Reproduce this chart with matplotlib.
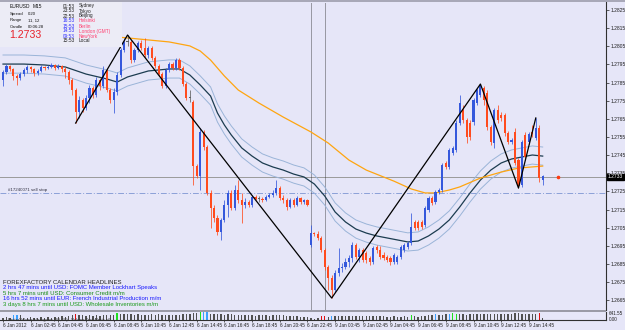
import matplotlib
matplotlib.use("Agg")
import matplotlib.pyplot as plt
from matplotlib.patches import Rectangle

plt.rcParams["font.family"] = ["Liberation Sans", "DejaVu Sans"]

# EURUSD M15 candles, bar 0 = 6 Jan 00:45
bar_open = [1.27864, 1.27908, 1.27941, 1.27925, 1.27886, 1.27875, 1.27897, 1.27919, 1.27936, 1.27925,
            1.27903, 1.27914, 1.27936, 1.27930, 1.27936, 1.27947, 1.27930, 1.27941, 1.27925, 1.27908,
            1.27864, 1.27809, 1.27688, 1.27754, 1.27710, 1.27765, 1.27820, 1.27782, 1.27864, 1.27831,
            1.27919, 1.27809, 1.27754, 1.27798, 1.27892, 1.28029, 1.28074, 1.28074, 1.27974, 1.28029,
            1.28068, 1.28040, 1.28002, 1.28040, 1.27985, 1.27941, 1.27897, 1.27831, 1.27919, 1.27952,
            1.27930, 1.27974, 1.27930, 1.27842, 1.27765, 1.27743, 1.27390, 1.27335, 1.27578, 1.27495,
            1.27242, 1.27159, 1.27104, 1.27027, 1.27093, 1.27175, 1.27242, 1.27159, 1.27258, 1.27203,
            1.27175, 1.27192, 1.27175, 1.27220, 1.27209, 1.27209, 1.27203, 1.27220, 1.27231, 1.27242,
            1.27269, 1.27214, 1.27203, 1.27164, 1.27203, 1.27175, 1.27214, 1.27192, 1.27203, 1.26955,
            1.27021, 1.27016, 1.26994, 1.26928, 1.26834, 1.26773, 1.26707, 1.26801, 1.26828, 1.26834,
            1.26861, 1.26883, 1.26955, 1.26889, 1.26928, 1.26911, 1.26883, 1.26861, 1.26944, 1.26928,
            1.26900, 1.26889, 1.26883, 1.26861, 1.26861, 1.26889, 1.26928, 1.26944, 1.26966, 1.27082,
            1.27082, 1.27082, 1.27065, 1.27148, 1.27214, 1.27192, 1.27247, 1.27258, 1.27407, 1.27385,
            1.27462, 1.27479, 1.27627, 1.27699, 1.27644, 1.27627, 1.27633, 1.27737, 1.27782, 1.27820,
            1.27793, 1.27605, 1.27517, 1.27699, 1.27671, 1.27671, 1.27572, 1.27523, 1.27578, 1.27423,
            1.27286, 1.27561, 1.27523, 1.27578, 1.27545, 1.27600, 1.27313]
bar_high = [1.27919, 1.27952, 1.27947, 1.27930, 1.27897, 1.27908, 1.27930, 1.27947, 1.27941, 1.27930,
            1.27925, 1.27947, 1.27941, 1.27947, 1.27958, 1.27952, 1.27952, 1.27947, 1.27936, 1.27919,
            1.27875, 1.27820, 1.27776, 1.27765, 1.27782, 1.27837, 1.27831, 1.27881, 1.27875, 1.27941,
            1.27930, 1.27820, 1.27820, 1.27908, 1.28040, 1.28096, 1.28112, 1.28085, 1.28040, 1.28079,
            1.28085, 1.28096, 1.28052, 1.28052, 1.27996, 1.27952, 1.27908, 1.27930, 1.27963, 1.27963,
            1.27985, 1.27985, 1.27941, 1.27853, 1.27809, 1.27754, 1.27401, 1.27600, 1.27589, 1.27506,
            1.27258, 1.27175, 1.27120, 1.27104, 1.27203, 1.27258, 1.27258, 1.27286, 1.27313, 1.27242,
            1.27214, 1.27203, 1.27231, 1.27231, 1.27225, 1.27220, 1.27231, 1.27242, 1.27258, 1.27313,
            1.27280, 1.27231, 1.27214, 1.27214, 1.27214, 1.27225, 1.27220, 1.27209, 1.27209, 1.27065,
            1.27027, 1.27032, 1.27005, 1.26939, 1.26845, 1.26790, 1.26817, 1.26939, 1.26856, 1.26883,
            1.26900, 1.26972, 1.26966, 1.26939, 1.26939, 1.26922, 1.26894, 1.26950, 1.26955, 1.26950,
            1.26917, 1.26900, 1.26894, 1.26911, 1.26900, 1.26955, 1.26966, 1.26977, 1.27131, 1.27093,
            1.27093, 1.27093, 1.27170, 1.27225, 1.27225, 1.27258, 1.27269, 1.27407, 1.27418, 1.27490,
            1.27501, 1.27644, 1.27782, 1.27726, 1.27655, 1.27644, 1.27765, 1.27820, 1.27842, 1.27831,
            1.27809, 1.27616, 1.27710, 1.27726, 1.27688, 1.27682, 1.27583, 1.27545, 1.27600, 1.27434,
            1.27534, 1.27578, 1.27578, 1.27616, 1.27655, 1.27616, 1.27341]
bar_low = [1.27831, 1.27897, 1.27914, 1.27864, 1.27837, 1.27864, 1.27886, 1.27903, 1.27908, 1.27886,
           1.27892, 1.27908, 1.27919, 1.27925, 1.27930, 1.27919, 1.27925, 1.27908, 1.27875, 1.27842,
           1.27782, 1.27627, 1.27655, 1.27688, 1.27699, 1.27737, 1.27765, 1.27771, 1.27809, 1.27820,
           1.27798, 1.27737, 1.27682, 1.27782, 1.27881, 1.28018, 1.28052, 1.27958, 1.27963, 1.28018,
           1.28029, 1.27991, 1.27985, 1.27974, 1.27930, 1.27886, 1.27820, 1.27820, 1.27908, 1.27919,
           1.27919, 1.27919, 1.27831, 1.27754, 1.27743, 1.27286, 1.27324, 1.27258, 1.27479, 1.27231,
           1.27049, 1.27082, 1.27010, 1.26983, 1.27082, 1.27109, 1.27148, 1.27148, 1.27187, 1.27076,
           1.27159, 1.27164, 1.27164, 1.27203, 1.27192, 1.27192, 1.27198, 1.27214, 1.27220, 1.27231,
           1.27203, 1.27187, 1.27148, 1.27159, 1.27164, 1.27170, 1.27181, 1.27181, 1.27170, 1.26944,
           1.27005, 1.26983, 1.26917, 1.26817, 1.26707, 1.26663, 1.26696, 1.26784, 1.26806, 1.26823,
           1.26834, 1.26861, 1.26878, 1.26861, 1.26861, 1.26856, 1.26845, 1.26850, 1.26911, 1.26878,
           1.26872, 1.26861, 1.26845, 1.26850, 1.26850, 1.26878, 1.26917, 1.26933, 1.26955, 1.27038,
           1.27038, 1.27043, 1.27054, 1.27137, 1.27175, 1.27181, 1.27236, 1.27247, 1.27374, 1.27374,
           1.27451, 1.27468, 1.27616, 1.27627, 1.27517, 1.27534, 1.27616, 1.27726, 1.27771, 1.27726,
           1.27589, 1.27506, 1.27490, 1.27627, 1.27638, 1.27556, 1.27512, 1.27512, 1.27396, 1.27269,
           1.27275, 1.27423, 1.27512, 1.27551, 1.27534, 1.27302, 1.27286]
bar_close = [1.27908, 1.27941, 1.27925, 1.27886, 1.27875, 1.27897, 1.27919, 1.27936, 1.27925, 1.27903,
             1.27914, 1.27936, 1.27930, 1.27936, 1.27947, 1.27930, 1.27941, 1.27925, 1.27908, 1.27864,
             1.27809, 1.27688, 1.27754, 1.27710, 1.27765, 1.27820, 1.27782, 1.27864, 1.27831, 1.27919,
             1.27809, 1.27754, 1.27798, 1.27892, 1.28029, 1.28074, 1.28074, 1.27974, 1.28029, 1.28068,
             1.28040, 1.28002, 1.28040, 1.27985, 1.27941, 1.27897, 1.27831, 1.27919, 1.27952, 1.27930,
             1.27974, 1.27930, 1.27842, 1.27765, 1.27765, 1.27390, 1.27335, 1.27578, 1.27495, 1.27242,
             1.27159, 1.27104, 1.27027, 1.27093, 1.27175, 1.27242, 1.27159, 1.27258, 1.27203, 1.27175,
             1.27192, 1.27175, 1.27220, 1.27209, 1.27209, 1.27203, 1.27220, 1.27231, 1.27242, 1.27269,
             1.27214, 1.27203, 1.27164, 1.27203, 1.27175, 1.27214, 1.27192, 1.27203, 1.27175, 1.27021,
             1.27016, 1.26994, 1.26928, 1.26834, 1.26773, 1.26707, 1.26801, 1.26828, 1.26834, 1.26861,
             1.26883, 1.26955, 1.26889, 1.26928, 1.26872, 1.26872, 1.26861, 1.26939, 1.26928, 1.26889,
             1.26883, 1.26872, 1.26861, 1.26900, 1.26889, 1.26944, 1.26955, 1.26966, 1.27054, 1.27049,
             1.27049, 1.27054, 1.27159, 1.27214, 1.27187, 1.27247, 1.27258, 1.27396, 1.27385, 1.27479,
             1.27490, 1.27627, 1.27737, 1.27644, 1.27551, 1.27551, 1.27754, 1.27809, 1.27837, 1.27754,
             1.27605, 1.27523, 1.27699, 1.27644, 1.27655, 1.27572, 1.27523, 1.27534, 1.27407, 1.27280,
             1.27523, 1.27440, 1.27567, 1.27567, 1.27600, 1.27324, 1.27335]

# moving average (dark) read every few bars; envelope half width
ma_bars = [0, 6, 12, 18, 24, 30, 33, 36, 42, 48, 51, 54, 57, 60, 62, 64, 66, 69, 72, 75, 78, 81,
           84, 87, 90, 93, 96, 99, 102, 105, 108, 111, 114, 117, 120, 123, 126, 129, 132, 135,
           138, 141, 144, 147, 150, 153, 156]
ma_mid = [1.27952, 1.27952, 1.27947, 1.27936, 1.27897, 1.27870, 1.27853, 1.27881, 1.27914, 1.27925,
          1.27925, 1.27892, 1.27837, 1.27776, 1.27682, 1.27616, 1.27561, 1.27490, 1.27445, 1.27407,
          1.27385, 1.27368, 1.27346, 1.27330, 1.27291, 1.27225, 1.27137, 1.27082, 1.27043, 1.27021,
          1.27005, 1.26994, 1.26983, 1.26972, 1.26977, 1.27005, 1.27043, 1.27093, 1.27164, 1.27242,
          1.27313, 1.27368, 1.27407, 1.27429, 1.27440, 1.27451, 1.27445]
env_width = 0.0005

# slow moving average (orange)
slow_bars = [30, 33, 36, 42, 48, 54, 57, 60, 64, 68, 74, 81, 89, 94, 100, 105, 113, 118, 122,
             125, 129, 132, 138, 144, 149, 156]
slow_ma = [1.28107, 1.28101, 1.28096, 1.28085, 1.28074, 1.28052, 1.28024, 1.27974, 1.27886, 1.27809,
           1.27737, 1.27660, 1.27578, 1.27517, 1.27423, 1.27368, 1.27307, 1.27264, 1.27242, 1.27242,
           1.27258, 1.27275, 1.27324, 1.27357, 1.27379, 1.27390]

# zigzag swing points (bar, high/low)
zz_bars = [21, 36, 95, 138, 149, 154]
zz_kind = ["L", "H", "L", "H", "L", "H"]

volume = [200, 230, 180, 380, 420, 400, 200, 170, 220, 200, 180, 210, 170, 230, 200, 220, 250, 300,
          280, 360, 400, 480, 430, 380, 350, 400, 340, 380, 360, 400, 420, 380, 400, 600, 480, 520,
          500, 460, 440, 480, 400, 420, 440, 460, 400, 480, 440, 400, 420, 380, 400, 420, 460, 480,
          500, 580, 560, 620, 630, 610, 520, 480, 500, 460, 440, 480, 460, 420, 440, 400, 420, 380,
          400, 360, 380, 400, 380, 360, 400, 420, 400, 380, 360, 340, 320, 300, 260, 240, 220, 180,
          120, 150, 340, 360, 260, 350, 320, 340, 360, 320, 340, 360, 340, 360, 320, 340, 360, 300,
          320, 340, 300, 260, 240, 300, 260, 240, 300, 260, 420, 300, 280, 320, 360, 380, 400, 480,
          400, 440, 460, 520, 540, 520, 480, 460, 440, 480, 500, 460, 480, 500, 520, 480, 460, 500,
          480, 460, 500, 520, 540, 560, 520, 480, 500, 460, 480, 600, 160]
vol_blue = [3, 4, 58, 59, 95, 125, 129]
vol_green = [33, 57, 118, 130, 131]
vol_red = [21, 92, 93, 155]

price_ticks = [1.2665 + 0.001 * k for k in range(17)]
time_labels = ["6 Jan 2012", "6 Jan 02:45", "6 Jan 04:45", "6 Jan 06:45", "6 Jan 08:45",
               "6 Jan 10:45", "6 Jan 12:45", "6 Jan 14:45", "6 Jan 16:45", "6 Jan 18:45",
               "6 Jan 20:45", "6 Jan 22:45", "9 Jan 00:45", "9 Jan 02:45", "9 Jan 04:45",
               "9 Jan 06:45", "9 Jan 08:45", "9 Jan 10:45", "9 Jan 12:45", "9 Jan 14:45"]
bid = 1.2733
sell_stop = 1.27242
sep_bars = [89, 93]

info_rows = [("Spread", "0.20"), ("Range", "11, 12"), ("Candle", "00:06:28")]
headlines = [("FOREXFACTORY CALENDAR HEADLINES", "#202020"),
             ("2 hrs 47 mins until USD: FOMC Member Lockhart Speaks", "#1a1aff"),
             ("5 hrs 7 mins until USD: Consumer Credit m/m", "#1a8a1a"),
             ("16 hrs 52 mins until EUR: French Industrial Production m/m", "#1a1aff"),
             ("3 days 8 hrs 7 mins until USD: Wholesale Inventories m/m", "#1a9a1a")]
clocks = [("01:53", "Sydney", "#202020", "#202020"), ("23:53", "Tokyo", "#202020", "#202020"),
          ("22:53", "Beijing", "#202020", "#202020"), ("16:53", "Helsinki", "#3030ff", "#ff4070"),
          ("15:53", "Berlin", "#3030ff", "#ff4070"), ("14:53", "London (GMT)", "#3030ff", "#ff4070"),
          ("09:53", "NewYork", "#3030ff", "#ff4070"), ("15:53", "Local", "#202020", "#202020")]

BG = "#e6e6f8"
BULL = "#3558dc"
BEAR = "#ff4b1e"

fig = plt.figure(figsize=(6.25, 3.3), dpi=100, facecolor=BG)
ax = fig.add_axes([0, 20 / 330, 606 / 625, 308 / 330], facecolor=BG)
vax = fig.add_axes([0, 10 / 330, 606 / 625, 8 / 330], facecolor=BG)
fig.add_artist(Rectangle((0, 328 / 330), 1, 2 / 330, transform=fig.transFigure,
                         color="#a8a8b8", lw=0))
fig.add_artist(Rectangle((0, 18 / 330), 606 / 625, 2 / 330, transform=fig.transFigure,
                         color="#9a9aa6", lw=0))

n = len(bar_close)
xs = list(range(n))
xlim = (-0.87, 174.3)

# candles
cols = []
bottoms = []
heights = []
for o, c in zip(bar_open, bar_close):
    if c > o:
        cols.append(BULL)
    elif c < o:
        cols.append(BEAR)
    else:
        cols.append("#606060")
    bottoms.append(min(o, c))
    heights.append(max(abs(c - o), 0.00003))
ax.vlines(xs, bar_low, bar_high, colors=cols, lw=0.55, zorder=3)
ax.bar(xs, heights, bottom=bottoms, width=0.62, color=cols, lw=0, zorder=4)

# moving averages
upper = [m + env_width for m in ma_mid]
lower = [m - env_width for m in ma_mid]
ax.plot(ma_bars, upper, color="#9ab4d8", lw=0.7, zorder=2)
ax.plot(ma_bars, lower, color="#9ab4d8", lw=0.7, zorder=2)
ax.plot(ma_bars, ma_mid, color="#1c3c50", lw=0.9, zorder=2)
ax.plot(slow_bars, slow_ma, color="#ffa510", lw=0.9, zorder=2)

# zigzag
zz_price = [bar_high[b] if k == "H" else bar_low[b] for b, k in zip(zz_bars, zz_kind)]
ax.plot(zz_bars, zz_price, color="black", lw=0.9, zorder=5)

# lines
ax.axhline(bid, color="#9a9a9a", lw=0.7, zorder=1)
ax.axhline(sell_stop, color="#8ca0d8", lw=0.7, ls=(0, (6, 2, 1, 2)), zorder=1)
for b in sep_bars:
    ax.axvline(b, color="#303030", lw=0.6, ls=(0, (1.2, 1.2)), zorder=1)
ax.plot([160.4], [bid], "o", color="#ff3a10", ms=1.6, zorder=6)
ax.text(1.5, sell_stop + 0.00004, "#17240071 sell stop", fontsize=3.2, color="#303040",
        va="bottom", ha="left")

ax.set_xlim(*xlim)
ax.set_ylim(1.26597, 1.28294)
ax.yaxis.tick_right()
ax.set_yticks(price_ticks)
ax.set_yticklabels([f"{t:.4f}" for t in price_ticks])
ax.tick_params(axis="y", labelsize=3.6, length=2, width=0.5, pad=1.2, colors="#202020")
ax.set_xticks([])
for s in ["left", "top", "bottom"]:
    ax.spines[s].set_visible(False)
ax.spines["right"].set_color("#303030")
ax.spines["right"].set_linewidth(0.8)

# current price tag
ax.text(1.0035, bid, "1.2733", transform=ax.get_yaxis_transform(), fontsize=3.6,
        color="white", va="center", ha="left", zorder=8,
        bbox=dict(boxstyle="square,pad=0.15", fc="black", ec="black"))

# info box
fig.add_artist(Rectangle((0, 1 - 47 / 330), 122 / 625, 45 / 330, transform=fig.transFigure,
                         color="#ececf6", lw=0, zorder=10))
fig.text(10 / 625, 1 - 6 / 330, "EURUSD", fontsize=3.5, color="#101010", va="center", zorder=11)
fig.text(33 / 625, 1 - 6 / 330, "M15", fontsize=3.5, color="#101010", va="center", zorder=11)
for k, (lab, val) in enumerate(info_rows):
    yy = 1 - (14 + 6.5 * k) / 330
    fig.text(10 / 625, yy, lab, fontsize=3.1, color="#101010", va="center", zorder=11)
    fig.text(28 / 625, yy, val, fontsize=3.1, color="#101010", va="center", zorder=11)
fig.text(9 / 625, 1 - 35 / 330, "1.2733", fontsize=7.6, color="#e8202a", va="center", zorder=11)
for k, (tm, city, c1, c2) in enumerate(clocks):
    yy = 1 - (6 + 5 * k) / 330
    fig.text(63 / 625, yy, tm, fontsize=3.4, color=c1, va="center", zorder=11)
    fig.text(79 / 625, yy, city, fontsize=3.4, color=c2, va="center", zorder=11)

# headlines
for k, (txt, c) in enumerate(headlines):
    fig.text(3 / 625, 1 - (282 + 5.6 * k) / 330, txt, fontsize=4.3, color=c, va="center")

# volume panel
vcols = []
for i in xs:
    if i in vol_blue:
        vcols.append("#3aa0ff")
    elif i in vol_green:
        vcols.append("#20e020")
    elif i in vol_red:
        vcols.append("#e01010")
    else:
        vcols.append("#505050")
vax.bar(xs, volume, width=0.4, color=vcols, lw=0)
vax.set_xlim(*xlim)
vax.set_ylim(0, 641.55)
vax.yaxis.tick_right()
vax.set_yticks([])
vax.text(1.004, 0.85, "641.55", transform=vax.transAxes, fontsize=3.3, color="#202020", va="center")
vax.text(1.004, 0.1, "0.00", transform=vax.transAxes, fontsize=3.3, color="#202020", va="center")
vax.text(1.5, 0.7, "BetterVolume Histogram (20, 10)   Volume Test Alerts v6", fontsize=3.0,
         color="#303030", va="center")
vax.set_xticks(list(range(0, 153, 8)))
vax.set_xticklabels(time_labels, ha="left")
vax.tick_params(axis="x", labelsize=3.4, length=1.5, width=0.5, pad=1, colors="#202020")
for s in ["left", "top"]:
    vax.spines[s].set_visible(False)
vax.spines["bottom"].set_color("#303030")
vax.spines["bottom"].set_linewidth(0.8)
vax.spines["right"].set_color("#303030")
vax.spines["right"].set_linewidth(0.8)

fig.savefig("out.png", dpi=100, facecolor=BG)
